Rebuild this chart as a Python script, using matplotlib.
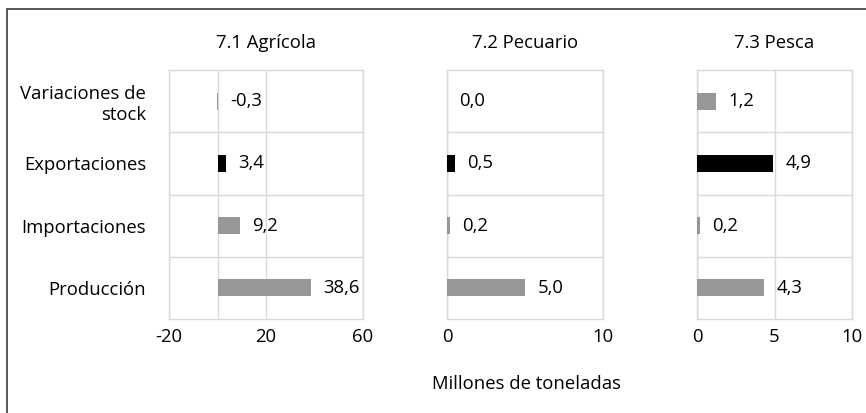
import matplotlib.pyplot as plt
from matplotlib.patches import Rectangle

plt.rcParams['font.family'] = ['Open Sans', 'DejaVu Sans']

categories = ["Variaciones de\nstock", "Exportaciones", "Importaciones", "Producción"]
titles = ["7.1 Agrícola", "7.2 Pecuario", "7.3 Pesca"]
agricola = [-0.3, 3.4, 9.2, 38.6]
pecuario = [0.0, 0.5, 0.2, 5.0]
pesca = [1.2, 4.9, 0.2, 4.3]
xlims = [(-20, 60), (0, 10), (0, 10)]
xticks = [[-20, 20, 60], [0, 10], [0, 5, 10]]

GRAY = "#979797"
BLACK = "#000000"
GRID = "#d9d9d9"
FS = 13.3
bar_colors = [GRAY, BLACK, GRAY, GRAY]

W, H = 866, 413
fig = plt.figure(figsize=(W / 100, H / 100), dpi=100)

# outer frame (cut off at right and bottom edges in the original)
fig.patches.append(Rectangle((7 / W, -0.05), 1.0, 1 - 9 / H + 0.05,
                             transform=fig.transFigure, fill=False,
                             edgecolor="#3a3a3a", linewidth=1.2))

# axes boxes in pixels: left, right
boxes = [(169, 363), (447, 603), (697, 852)]
top, bottom = 70, 319

ypos = [3, 2, 1, 0]
for i, (vals, title, xl, xt, (x0, x1)) in enumerate(
        zip([agricola, pecuario, pesca], titles, xlims, xticks, boxes)):
    ax = fig.add_axes([x0 / W, (H - bottom) / H, (x1 - x0) / W, (bottom - top) / H])
    ax.barh(ypos, vals, height=0.27, color=bar_colors, zorder=3)
    ax.set_xlim(*xl)
    ax.set_ylim(-0.5, 3.5)
    ax.set_xticks(xt)
    ax.set_xticklabels([str(t) for t in xt], fontsize=FS)
    ax.tick_params(length=0, pad=6.5)
    # grid lines
    for t in xt:
        ax.axvline(t, color=GRID, linewidth=1, zorder=1)
    ax.axvline(0, color=GRID, linewidth=1, zorder=1)
    for y in [0.5, 1.5, 2.5]:
        ax.axhline(y, color=GRID, linewidth=1, zorder=1)
    for s in ax.spines.values():
        s.set_color(GRID)
        s.set_linewidth(1)
    ax.set_yticks(ypos)
    if i == 0:
        ax.set_yticklabels(categories, fontsize=FS, ha="right", linespacing=1.2)
        ax.tick_params(axis="y", pad=16.5)
    else:
        ax.set_yticklabels([])
    for y, v in zip(ypos, vals):
        ax.annotate(f"{v:.1f}".replace(".", ","), xy=(max(v, 0), y),
                    xytext=(9, 0), textcoords="offset points",
                    va="center", ha="left", fontsize=FS, zorder=4)
    fig.text((x0 + x1) / 2 / W, 1 - 43 / H, title, ha="center",
             va="center", fontsize=FS)

fig.text(527 / W, 1 - 384 / H, "Millones de toneladas", ha="center",
         va="center", fontsize=FS)

fig.savefig("out.png", dpi=100)
